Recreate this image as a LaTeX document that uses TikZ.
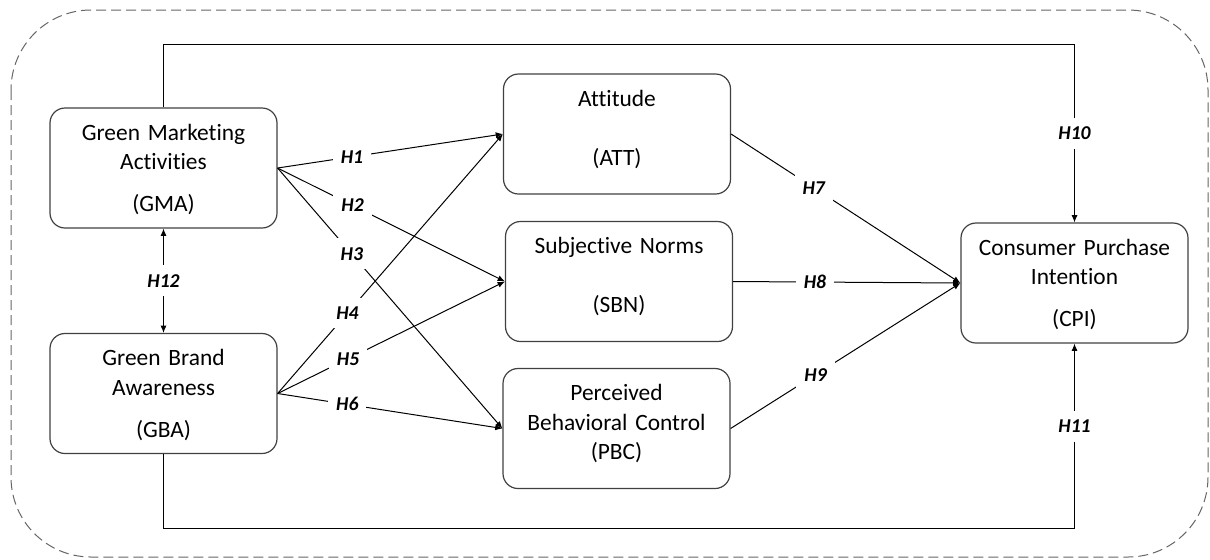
\documentclass[tikz,border=0pt]{standalone}
\usepackage{fontspec}
\setmainfont{Carlito}[Ligatures=NoCommon]
\usetikzlibrary{arrows.meta}

\begin{document}
\begin{tikzpicture}[x=0.5pt, y=-0.5pt, >={Latex[length=3.6pt,width=3pt]},
  every node/.style={font=\fontsize{11.7}{14.75}\selectfont},
  construct/.style={draw=black!75, line width=0.6pt, rounded corners=7.5pt,
    text width=108pt, align=center, inner xsep=2.75pt, inner ysep=0pt,
    text height=16pt, text depth=44pt},
  hyp/.style={fill=white, inner xsep=4pt, inner ysep=4.5pt,
    font=\fontsize{9.8}{10}\selectfont\bfseries\itshape},
  link/.style={->, line width=0.5pt}]

  \useasboundingbox (0,0) rectangle (1210,559);

  % =========================
  % outer frame
  % =========================
  \draw[black!60, line width=0.5pt, dash pattern=on 5pt off 2.5pt, rounded corners=40pt]
    (11,10) rectangle (1208,557);

  % =========================
  % constructs
  % =========================
  \node[construct] (GMA) at (163.5,168)   {Green Marketing\\Activities\\[6.3pt](GMA)};
  \node[construct] (GBA) at (163.5,393.5) {Green Brand\\Awareness\\[6.3pt](GBA)};
  \node[construct] (ATT) at (617,134)     {Attitude\\[14.75pt](ATT)};
  \node[construct] (SBN) at (619,281.5)   {Subjective Norms\\[14.75pt](SBN)};
  \node[construct] (PBC) at (616.5,428.5) {Perceived\\Behavioral Control\\(PBC)};
  \node[construct] (CPI) at (1074.5,283)  {Consumer Purchase\\Intention\\[6.3pt](CPI)};

  % =========================
  % hypotheses H1--H9
  % =========================
  \foreach \src/\dst/\lab/\p in {GMA/ATT/H1/0.33, GMA/SBN/H2/0.33, GMA/PBC/H3/0.33,
                                 GBA/ATT/H4/0.31, GBA/SBN/H5/0.31, GBA/PBC/H6/0.31,
                                 ATT/CPI/H7/0.36, SBN/CPI/H8/0.36, PBC/CPI/H9/0.37}{
    \draw[link] (\src.east) -- node[hyp, pos=\p] (l\lab) {\lab} (\dst.west);
  }

  % =========================
  % direct paths H10--H12
  % =========================
  \coordinate (topline) at (0,44);
  \coordinate (botline) at (0,528);

  \draw[link] (GMA.north) |- (topline -| CPI.north)
    -- node[hyp] (lH10) {H10} (CPI.north);
  \draw[link] (GBA.south) |- (botline -| CPI.south)
    -- node[hyp, pos=0.55] (lH11) {H11} (CPI.south);
  \draw[link, <->] (GMA.south) -- node[hyp] (lH12) {H12} (GBA.north);

\end{tikzpicture}
\end{document}
